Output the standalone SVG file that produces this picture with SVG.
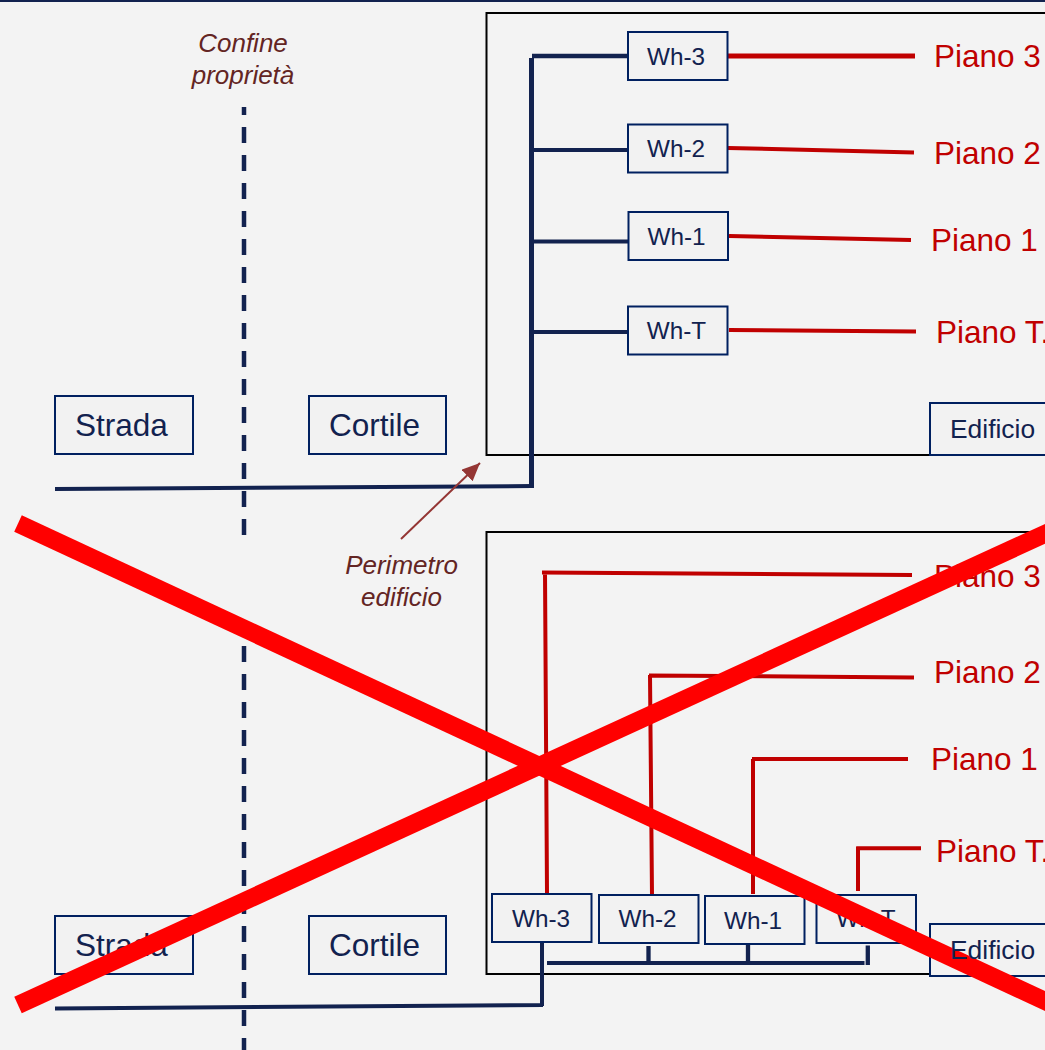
<svg xmlns="http://www.w3.org/2000/svg" width="1045" height="1050" viewBox="0 0 1045 1050">
<defs>
<marker id="arr" markerUnits="userSpaceOnUse" markerWidth="20" markerHeight="18" refX="18" refY="8" orient="auto"><path d="M0 0L18 8L0 16Z" fill="#943634"/></marker>
</defs>
<style>
text{font-family:"Liberation Sans",Arial,sans-serif}
.box{fill:#f2f2f2;stroke:#002060;stroke-width:2}
.per{fill:none;stroke:#000;stroke-width:2}
.navy{fill:none;stroke:#12224f}
.red{fill:none;stroke:#c00000}
.wh{font-size:24.3px;fill:#12224f;text-anchor:middle}
.big{font-size:31.5px;fill:#12224f}
.ed{font-size:26.4px;fill:#12224f}
.pi{font-size:31.5px;fill:#c00000}
.note{font-size:26px;font-style:italic;fill:#632523;text-anchor:middle}
.dash{fill:none;stroke:#12224f;stroke-width:4.5;stroke-dasharray:16 12}
.cross{stroke:#ff0000;stroke-width:18;fill:none}
</style>
<rect width="1045" height="1050" fill="#f3f3f3"/>
<rect width="1045" height="2" fill="#12224f"/>
<g id="perimeters">
<rect class="per" x="486.500" y="13" width="570" height="442"/>
<rect class="per" x="486.500" y="532" width="570" height="442"/>
</g>
<g id="connectors">
<path class="dash" stroke-dashoffset="8" d="M244 107V536"/>
<path class="dash" d="M244 646V1050"/>
<path class="navy" stroke-width="4" d="M55 489L532 486"/>
<path class="navy" stroke-width="5" d="M531.500 488V58"/>
<path class="navy" stroke-width="4.500" d="M532 56H628"/>
<path class="navy" stroke-width="4" d="M532 150H628M532 241.500H628M532 332H628"/>
<path class="red" stroke-width="5" d="M728 56H915"/>
<path class="red" stroke-width="4" d="M728 148L914 152.500M729 236L911 240M729 330L916 331.500"/>
<path d="M401 539L480 463" fill="none" stroke="#943634" stroke-width="2" marker-end="url(#arr)"/>
<path class="navy" stroke-width="4" d="M55 1008.500L543 1005M542 943V1006"/>
<path class="navy" stroke-width="4" d="M547 963H864.500"/>
<path class="navy" stroke-width="4.300" d="M648.500 946V965M748 945V963M867.800 945.500V965"/>
<path class="red" stroke-width="4" d="M542 572.500L912 575M545 572L547 893"/>
<path class="red" stroke-width="4" d="M649 675.500L914 677.500M650 675L652 895"/>
<path class="red" stroke-width="4" d="M752 759H908M753 759V894"/>
<path class="red" stroke-width="4" d="M856.500 848.300H921M858 846.500V891"/>
</g>
<g id="notes">
<text class="note" x="243" y="52">Confine</text>
<text class="note" x="243" y="84">proprietà</text>
<text class="note" x="401.500" y="574">Perimetro</text>
<text class="note" x="401.500" y="606">edificio</text>
</g>
<g id="strada-1"><rect class="box" x="55" y="396" width="138" height="58"/><text class="big" x="75" y="436">Strada</text></g>
<g id="cortile-1"><rect class="box" x="309" y="396" width="137" height="58"/><text class="big" x="329" y="436">Cortile</text></g>
<g id="edificio-1"><rect class="box" x="930" y="403" width="130" height="52"/><text class="ed" x="950" y="438">Edificio</text></g>
<g id="wh3-1"><rect class="box" x="628" y="32" width="99.500" height="48"/><text class="wh" x="676" y="65">Wh-3</text></g>
<g id="wh2-1"><rect class="box" x="628" y="124.500" width="99.500" height="48"/><text class="wh" x="676" y="157">Wh-2</text></g>
<g id="wh1-1"><rect class="box" x="628.500" y="212" width="99.500" height="48"/><text class="wh" x="676.500" y="245">Wh-1</text></g>
<g id="wht-1"><rect class="box" x="628" y="306.500" width="99.500" height="48"/><text class="wh" x="676.500" y="339">Wh-T</text></g>
<g id="piano3-1"><text class="pi" x="934" y="67">Piano 3</text></g>
<g id="piano2-1"><text class="pi" x="934" y="164">Piano 2</text></g>
<g id="piano1-1"><text class="pi" x="931" y="251">Piano 1</text></g>
<g id="pianot-1"><text class="pi" x="936" y="343">Piano T.</text></g>
<g id="strada-2"><rect class="box" x="55" y="916" width="138" height="58"/><text class="big" x="75" y="956">Strada</text></g>
<g id="cortile-2"><rect class="box" x="309" y="916" width="137" height="58"/><text class="big" x="329" y="956">Cortile</text></g>
<g id="edificio-2"><rect class="box" x="930" y="924" width="130" height="52"/></g>
<g id="wh3-2"><rect class="box" x="492" y="894" width="99.500" height="48"/><text class="wh" x="541" y="927">Wh-3</text></g>
<g id="wh2-2"><rect class="box" x="599" y="895" width="99.500" height="48"/><text class="wh" x="647.500" y="927">Wh-2</text></g>
<g id="wh1-2"><rect class="box" x="705" y="896" width="99.500" height="48"/><text class="wh" x="753" y="929">Wh-1</text></g>
<g id="wht-2"><rect class="box" x="816.500" y="895" width="99.500" height="48"/><text class="wh" x="866" y="927">Wh-T</text></g>
<g id="piano3-2"><text class="pi" x="934" y="587">Piano 3</text></g>
<g id="piano2-2"><text class="pi" x="934" y="683">Piano 2</text></g>
<g id="piano1-2"><text class="pi" x="931" y="770">Piano 1</text></g>
<g id="pianot-2"><text class="pi" x="936" y="862">Piano T.</text></g>
<g id="cross">
<path class="cross" d="M18 523.500L1060 1008"/>
<path class="cross" d="M18 1005L1060 527"/>
</g>
<g id="edificio-2-label"><text class="ed" x="950" y="959">Edificio</text></g>
</svg>
